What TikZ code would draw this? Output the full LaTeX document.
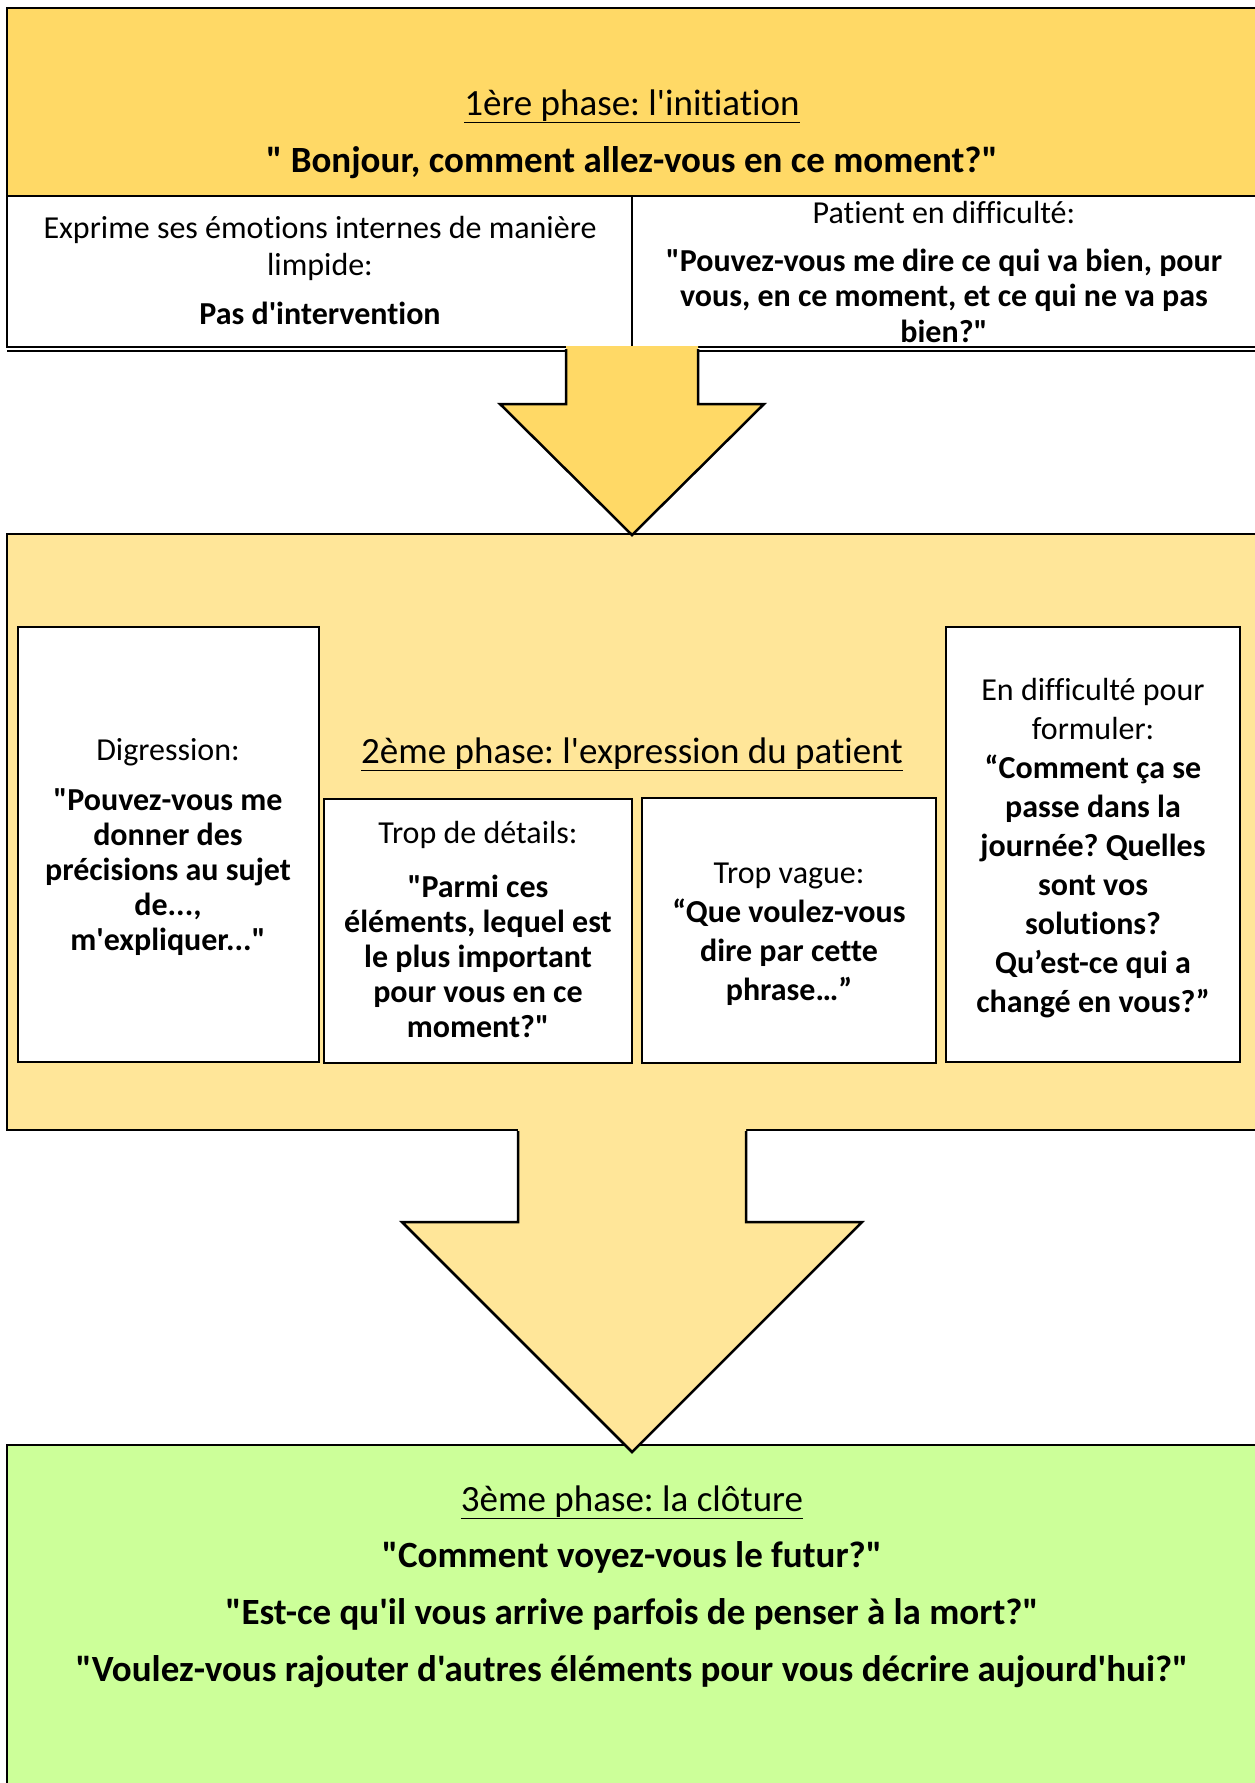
\documentclass[tikz,border=0pt]{standalone}
\usepackage{fontspec}
\setmainfont{Carlito}[Ligatures={TeXOff,NoCommon}]
\definecolor{phaseone}{HTML}{FFD966}
\definecolor{phasetwo}{HTML}{FFE699}
\definecolor{phasethree}{HTML}{CCFF99}
\newcommand{\myblock}[4]{\vtop{\hsize=#1pt\parindent=0pt\frenchspacing\centering\fontsize{#2}{#3}\selectfont #4\par}}
\tikzset{
  box/.style={draw=black, line width=2.5pt},
  arrowline/.style={draw=black, line width=2.5pt, line join=miter},
  txt/.style={anchor=base, inner sep=0pt},
}
\begin{document}
\begin{tikzpicture}[x=1pt,y=-1pt]
\useasboundingbox (0,0) rectangle (1255,1783);
\clip (0,0) rectangle (1255,1783);
% phase 1
\draw[box, fill=phaseone] (7,8) rectangle (1268,196);
\draw[box, fill=white] (7,196) rectangle (1268,347);
\draw[line width=1.5pt] (7,351) -- (1268,351);
\draw[line width=2pt] (632,196) -- (632,347);
% phase 2 box
\draw[box, fill=phasetwo] (7,534) rectangle (1268,1130);
% arrow 1
\fill[phaseone] (566,346) -- (698,346) -- (698,404) -- (764,404) -- (632,535) -- (500,404) -- (566,404) -- cycle;
\draw[arrowline] (566,349) -- (566,404) -- (500,404) -- (632,535) -- (764,404) -- (698,404) -- (698,349);
% inner boxes
\draw[box, fill=white] (18,627) rectangle (319,1062);
\draw[box, fill=white] (324,799) rectangle (632,1063);
\draw[box, fill=white] (642,798) rectangle (936,1063);
\draw[box, fill=white] (946,627) rectangle (1240,1062);
% phase 3 box
\draw[box, fill=phasethree] (7,1445) rectangle (1268,1800);
% arrow 2
\fill[phasetwo] (518,1128) -- (746,1128) -- (746,1222) -- (862,1222) -- (632,1452) -- (402,1222) -- (518,1222) -- cycle;
\draw[arrowline] (518,1131) -- (518,1222) -- (402,1222) -- (632,1452) -- (862,1222) -- (746,1222) -- (746,1131);
% texts
\node[txt] (p1) at (632,115) {\myblock{1200}{37}{57}{\underline{1ère phase: l'initiation}\\\textbf{" Bonjour, comment allez-vous en ce moment?"}}};
\node[txt] (c1) at (320,238) {\myblock{600}{32}{37}{Exprime ses émotions internes de manière\\limpide:\\[12pt]\textbf{Pas d'intervention}}};
\node[txt] (c2) at (944,223) {\myblock{600}{32}{35.5}{Patient en difficulté:\\[12.5pt]\textbf{"Pouvez-vous me dire ce qui va bien, pour}\\\textbf{vous, en ce moment, et ce qui ne va pas}\\\textbf{bien?"}}};
\node[txt] (p2) at (632,763) {\myblock{1200}{37}{57}{\underline{2ème phase: l'expression du patient}}};
\node[txt] (dig) at (168,760) {\myblock{400}{32}{35}{Digression:\\[15pt]\textbf{"Pouvez-vous me}\\\textbf{donner des}\\\textbf{précisions au sujet}\\\textbf{de...,}\\\textbf{m'expliquer..."}}};
\node[txt] (tdd) at (478,843) {\myblock{400}{32}{35}{Trop de détails:\\[19pt]\textbf{"Parmi ces}\\\textbf{éléments, lequel est}\\\textbf{le plus important}\\\textbf{pour vous en ce}\\\textbf{moment?"}}};
\node[txt] (tv) at (789,883) {\myblock{400}{32}{39}{Trop vague:\\\textbf{“Que voulez-vous}\\\textbf{dire par cette}\\\textbf{phrase…”}}};
\node[txt] (form) at (1093,700) {\myblock{400}{32}{39}{En difficulté pour\\formuler:\\\textbf{“Comment ça se}\\\textbf{passe dans la}\\\textbf{journée? Quelles}\\\textbf{sont vos}\\\textbf{solutions?}\\\textbf{Qu’est-ce qui a}\\\textbf{changé en vous?”}}};
\node[txt] (p3) at (632,1511) {\myblock{1200}{37}{56.7}{\underline{3ème phase: la clôture}\\\textbf{"Comment voyez-vous le futur?"}\\\textbf{"Est-ce qu'il vous arrive parfois de penser à la mort?"}\\\textbf{"Voulez-vous rajouter d'autres éléments pour vous décrire aujourd'hui?"}}};
\end{tikzpicture}
\end{document}
